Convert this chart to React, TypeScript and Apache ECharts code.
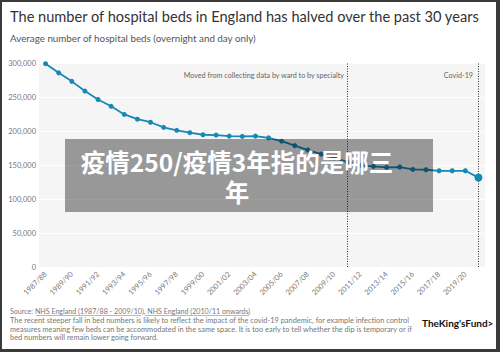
import React, { useEffect, useRef } from "react";
import * as echarts from "echarts";

const categories = [
  "1987/88", "1988/89", "1989/90", "1990/91", "1991/92", "1992/93", "1993/94",
  "1994/95", "1995/96", "1996/97", "1997/98", "1998/99", "1999/00", "2000/01",
  "2001/02", "2002/03", "2003/04", "2004/05", "2005/06", "2006/07", "2007/08",
  "2008/09", "2009/10", "2010/11", "2011/12", "2012/13", "2013/14", "2014/15",
  "2015/16", "2016/17", "2017/18", "2018/19", "2019/20", "2020/21",
];

const beds = [
  299000, 285500, 273000, 258700, 246300, 236300, 224400, 217400, 212900,
  205400, 201000, 197500, 194500, 194000, 192500, 192000, 192500, 190000,
  185000, 178500, 172000, 166000, 160500, 154500, 149500, 148000, 146500,
  147000, 143500, 143000, 141500, 141500, 141500, 131500,
];

const markers = [
  { at: "2010/11", label: "Moved from collecting data by ward to by specialty" },
  { at: "2020/21", label: "Covid-19" },
];

const yTicks = { min: 0, max: 300000, interval: 50000 };

const overlayLines = ["疫情250/疫情3年指的是哪三", "年"];

const FONT = "Lato, 'Noto Sans', sans-serif";
const LINE = "#1787b5";

export default function App() {
  const ref = useRef<HTMLDivElement>(null);
  useEffect(() => {
    if (!ref.current) return;
    const chart = echarts.init(ref.current, undefined, { renderer: "svg" });
    const last = beds.length - 1;
    chart.setOption({
      animation: false,
      backgroundColor: "#ffffff",
      textStyle: { fontFamily: FONT },
      grid: {
        left: 39,
        right: 15,
        top: 63,
        bottom: 85,
        show: true,
        backgroundColor: "#f5f5f5",
        borderWidth: 0,
      },
      xAxis: {
        type: "category",
        data: categories,
        boundaryGap: true,
        axisLine: { show: false },
        axisTick: { show: false },
        axisLabel: {
          interval: 1,
          rotate: 45,
          fontSize: 7.5,
          color: "#777",
          margin: 6,
          fontFamily: FONT,
        },
        splitLine: { show: false },
      },
      yAxis: {
        type: "value",
        min: yTicks.min,
        max: yTicks.max,
        interval: yTicks.interval,
        axisLine: { show: false },
        axisTick: { show: false },
        axisLabel: {
          fontSize: 7.5,
          color: "#777",
          margin: 3,
          fontFamily: FONT,
          formatter: (v: number) => v.toLocaleString("en-GB"),
        },
        splitLine: { show: true, lineStyle: { color: "#ffffff", width: 1 } },
      },
      series: [
        {
          type: "line",
          data: beds.map((v, i) =>
            i === last ? { value: v, symbolSize: 8 } : v
          ),
          symbol: "circle",
          symbolSize: 5,
          lineStyle: { color: LINE, width: 1.8 },
          itemStyle: { color: LINE },
          z: 3,
          markLine: {
            silent: true,
            symbol: "none",
            label: { show: false },
            lineStyle: { color: "#333", type: [1, 1.5], width: 1 },
            data: markers.map((m) => ({ xAxis: m.at })),
            z: 2,
          },
        },
      ],
      graphic: [
        {
          type: "text",
          left: 10,
          top: 9,
          style: {
            text: "The number of hospital beds in England has halved over the past 30 years",
            fontSize: 14.6,
            fill: "#333",
            fontFamily: FONT,
          },
        },
        {
          type: "text",
          left: 10,
          top: 33,
          style: {
            text: "Average number of hospital beds (overnight and day only)",
            fontSize: 9.8,
            fill: "#555",
            fontFamily: FONT,
          },
        },
        {
          type: "text",
          x: 344,
          y: 75,
          style: {
            text: markers[0].label,
            fontSize: 7.2,
            fill: "#666",
            align: "right",
            verticalAlign: "middle",
            fontFamily: FONT,
          },
        },
        {
          type: "text",
          x: 473,
          y: 75,
          style: {
            text: markers[1].label,
            fontSize: 7.2,
            fill: "#666",
            align: "right",
            verticalAlign: "middle",
            fontFamily: FONT,
          },
        },
        {
          type: "text",
          x: 10,
          y: 311.5,
          style: {
            text: "Source: NHS England (1987/88 - 2009/10), NHS England (2010/11 onwards)",
            fontSize: 7.1,
            fill: "#777",
            verticalAlign: "middle",
            fontFamily: FONT,
          },
        },
        { type: "line", shape: { x1: 36, y1: 315.5, x2: 141, y2: 315.5 }, style: { stroke: "#888", lineWidth: 0.6 } },
        { type: "line", shape: { x1: 145, y1: 315.5, x2: 249, y2: 315.5 }, style: { stroke: "#888", lineWidth: 0.6 } },
        {
          type: "text",
          x: 10,
          y: 316,
          style: {
            text:
              "The recent steeper fall in bed numbers is likely to reflect the impact of the covid-19 pandemic, for example infection control\nmeasures meaning few beds can be accommodated in the same space. It is too early to tell whether the dip is temporary or if\nbed numbers will remain lower going forward.",
            fontSize: 7.4,
            lineHeight: 8.7,
            fill: "#777",
            fontFamily: FONT,
          },
        },
        {
          type: "text",
          x: 422,
          y: 323,
          style: {
            text: "TheKing'sFund>",
            fontSize: 10,
            fontWeight: "bold",
            fill: "#111",
            verticalAlign: "middle",
            fontFamily: FONT,
          },
        },
        {
          type: "rect",
          z: 100,
          shape: { x: 65, y: 139, width: 368, height: 73 },
          style: { fill: "rgba(0,0,0,0.38)" },
        },
        ...overlayLines.map((t, i) => ({
          type: "text",
          z: 101,
          x: 237,
          y: 161 + i * 30,
          style: {
            text: t,
            fontSize: 24.5,
            fontWeight: "bold",
            fill: "#ffffff",
            align: "center",
            verticalAlign: "middle",
            fontFamily: "'Noto Sans CJK SC', sans-serif",
          },
        })),
        { type: "rect", z: 120, shape: { x: 0, y: 0, width: 500, height: 2 }, style: { fill: "#3a3a3a" } },
        { type: "rect", z: 120, shape: { x: 0, y: 349, width: 500, height: 3 }, style: { fill: "#3a3a3a" } },
        { type: "rect", z: 120, shape: { x: 0, y: 0, width: 2, height: 352 }, style: { fill: "#3a3a3a" } },
        { type: "rect", z: 120, shape: { x: 496, y: 0, width: 4, height: 352 }, style: { fill: "#3a3a3a" } },
      ],
    });
    return () => chart.dispose();
  }, []);
  return (
    <div
      ref={ref}
      style={{ position: "absolute", left: 0, top: 0, width: 500, height: 352 }}
    />
  );
}
